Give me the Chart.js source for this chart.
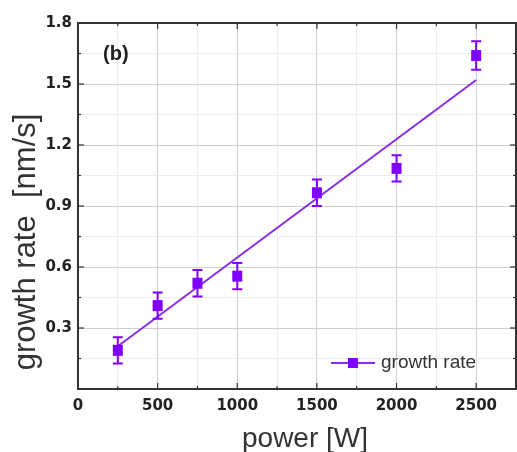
<!DOCTYPE html>
<html><head><meta charset="utf-8">
<script src="https://cdn.jsdelivr.net/npm/chart.js@4"></script>
<style>html,body{margin:0;padding:0;background:#fff}#wrap{width:517px;height:452px}</style>
</head><body><div id="wrap"><canvas id="c" width="517" height="452"></canvas></div>
<script>
const powerW = [250, 500, 750, 1000, 1500, 2000, 2500];
const growthRate = [0.19, 0.41, 0.52, 0.555, 0.965, 1.085, 1.64];
const growthErr = [0.065, 0.065, 0.065, 0.065, 0.065, 0.065, 0.07];
const fitX = [250, 2500];
const fitY = [0.21, 1.52];
const xTickLabels = [0, 500, 1000, 1500, 2000, 2500];
const yTickLabels = [0.3, 0.6, 0.9, 1.2, 1.5, 1.8];

const PURPLE = '#7f00ff';
const LINEC = '#8a2be8';
const FONT = '"Liberation Sans", Arial, sans-serif';
const TFONT = '"DejaVu Sans", sans-serif';

const isMajorX = v => Math.abs(v % 500) < 1e-6;
const isMajorY = v => Math.abs(Math.round(v / 0.3) * 0.3 - v) < 1e-6;

const extras = {
  id: 'extras',
  beforeDatasetsDraw(chart) {
    const ctx = chart.ctx, a = chart.chartArea, xs = chart.scales.x, ys = chart.scales.y;
    ctx.save();
    ctx.strokeStyle = '#333';
    ctx.lineWidth = 1.2;
    xs.ticks.forEach(t => {
      const px = xs.getPixelForValue(t.value);
      const L = isMajorX(t.value) ? 6 : 3;
      ctx.beginPath(); ctx.moveTo(px, a.bottom); ctx.lineTo(px, a.bottom - L); ctx.stroke();
      ctx.beginPath(); ctx.moveTo(px, a.top); ctx.lineTo(px, a.top + L); ctx.stroke();
    });
    ys.ticks.forEach(t => {
      const py = ys.getPixelForValue(t.value);
      const L = isMajorY(t.value) ? 6 : 3;
      ctx.beginPath(); ctx.moveTo(a.left, py); ctx.lineTo(a.left + L, py); ctx.stroke();
      ctx.beginPath(); ctx.moveTo(a.right, py); ctx.lineTo(a.right - L, py); ctx.stroke();
    });
    ctx.strokeStyle = '#333';
    ctx.lineWidth = 2;
    ctx.strokeRect(a.left, a.top, a.right - a.left, a.bottom - a.top);
    ctx.restore();
  },
  afterDatasetsDraw(chart) {
    const ctx = chart.ctx, xs = chart.scales.x, ys = chart.scales.y;
    ctx.save();
    ctx.strokeStyle = PURPLE;
    ctx.lineWidth = 2;
    powerW.forEach((p, i) => {
      const px = xs.getPixelForValue(p);
      const top = ys.getPixelForValue(growthRate[i] + growthErr[i]);
      const bot = ys.getPixelForValue(growthRate[i] - growthErr[i]);
      ctx.beginPath();
      ctx.moveTo(px, top); ctx.lineTo(px, bot);
      ctx.moveTo(px - 5, top); ctx.lineTo(px + 5, top);
      ctx.moveTo(px - 5, bot); ctx.lineTo(px + 5, bot);
      ctx.stroke();
    });
    ctx.fillStyle = PURPLE;
    powerW.forEach((p, i) => {
      const px = xs.getPixelForValue(p), py = ys.getPixelForValue(growthRate[i]);
      ctx.fillRect(px - 5, py - 5.5, 10, 11);
    });
    // (b) label
    ctx.fillStyle = '#222';
    ctx.font = 'bold 20px ' + FONT;
    ctx.textAlign = 'left'; ctx.textBaseline = 'middle';
    ctx.fillText('(b)', 103, 54);
    // legend
    const ly = 363;
    ctx.strokeStyle = LINEC; ctx.lineWidth = 2;
    ctx.beginPath(); ctx.moveTo(331, ly); ctx.lineTo(375, ly); ctx.stroke();
    ctx.fillStyle = PURPLE;
    ctx.fillRect(348, ly - 5, 10, 10);
    ctx.fillStyle = '#333';
    ctx.font = '19px ' + FONT;
    ctx.textBaseline = 'middle';
    ctx.fillText('growth rate', 381, ly);
    // y title
    ctx.save();
    ctx.translate(35, 242);
    ctx.rotate(-Math.PI / 2);
    ctx.textAlign = 'center'; ctx.textBaseline = 'alphabetic';
    ctx.font = '31px ' + FONT;
    ctx.fillStyle = '#333';
    ctx.fillText('growth rate  [nm/s]', 0, 0);
    ctx.restore();
    // x title
    ctx.textAlign = 'center'; ctx.textBaseline = 'alphabetic';
    ctx.font = '28px ' + FONT;
    ctx.fillStyle = '#333';
    ctx.fillText('power [W]', 305, 447);
    ctx.restore();
  }
};

new Chart(document.getElementById('c'), {
  type: 'scatter',
  data: {
    datasets: [
      {
        type: 'line',
        data: fitX.map((x, i) => ({x, y: fitY[i]})),
        borderColor: LINEC, borderWidth: 2, pointRadius: 0, fill: false
      },
      {
        data: powerW.map((x, i) => ({x, y: growthRate[i]})),
        backgroundColor: PURPLE, borderColor: PURPLE,
        pointStyle: 'rect', pointRadius: 0
      }
    ]
  },
  options: {
    responsive: false,
    animation: false,
    devicePixelRatio: 1,
    layout: { padding: { top: 23, right: 1, left: 0, bottom: 0 } },
    plugins: { legend: { display: false }, tooltip: { enabled: false } },
    scales: {
      x: {
        type: 'linear', min: 0, max: 2750,
        afterFit: s => { s.height = 63; s.paddingRight = 0; s.paddingLeft = 0; },
        afterBuildTicks: s => { s.ticks = []; for (let v = 0; v <= 2750; v += 250) s.ticks.push({value: v}); },
        ticks: {
          autoSkip: false, maxRotation: 0, padding: 8,
          color: '#222', font: { family: TFONT, size: 15, weight: 'bold' },
          callback: v => xTickLabels.includes(v) ? String(v) : ''
        },
        grid: {
          drawTicks: false,
          color: c => isMajorX(c.tick.value) ? '#cfcfcf' : '#ececec',
          lineWidth: 1
        },
        border: { display: false }
      },
      y: {
        type: 'linear', min: 0, max: 1.8,
        afterFit: s => { s.width = 78; s.paddingTop = 0; s.paddingBottom = 0; },
        afterBuildTicks: s => { s.ticks = []; for (let k = 0; k <= 12; k++) s.ticks.push({value: +(k * 0.15).toFixed(2)}); },
        ticks: {
          autoSkip: false, padding: 6,
          color: '#222', font: { family: TFONT, size: 15, weight: 'bold' },
          callback: v => yTickLabels.some(t => Math.abs(t - v) < 1e-6) ? v.toFixed(1) : ''
        },
        grid: {
          drawTicks: false,
          color: c => isMajorY(c.tick.value) ? '#cfcfcf' : '#ececec',
          lineWidth: 1
        },
        border: { display: false }
      }
    }
  },
  plugins: [extras]
});
</script>
</body></html>
